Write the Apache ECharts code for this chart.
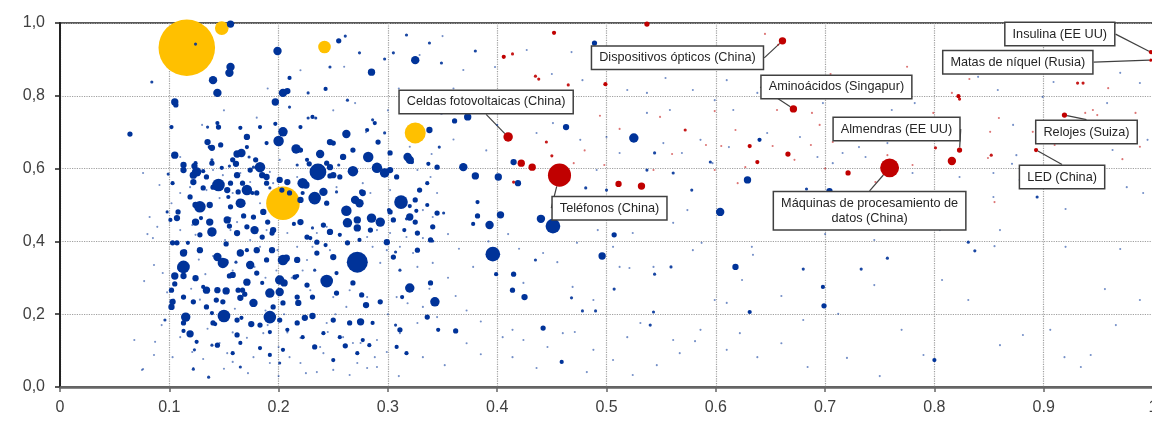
<!DOCTYPE html>
<html><head><meta charset="utf-8">
<script src="https://cdn.jsdelivr.net/npm/echarts@6/dist/echarts.min.js"></script>
<style>html,body{margin:0;padding:0;background:#fff}#c{width:1152px;height:421px}</style>
</head><body><div id="c"></div>
<script>
// ---- DATA: [x, y, tradeValue] ----
const xTickLabels = ['0','0.1','0.2','0.3','0.4','0.5','0.6','0.7','0.8','0.9','1'];
const yTickLabels = ['0,0','0,2','0,4','0,6','0,8','1,0'];

const yellowPoints = [
  [0.116,0.932,2900],[0.148,0.986,170],[0.242,0.934,144],[0.325,0.698,400],[0.204,0.505,1024]
];

const bluePoints = [
  [0.064,0.695,25],[0.124,0.942,9],[0.156,0.997,49],[0.199,0.923,64],[0.156,0.879,64],[0.155,0.863,64],
  [0.140,0.843,64],[0.144,0.808,64],[0.105,0.783,49],[0.106,0.775,25],[0.102,0.714,16],[0.084,0.838,9],
  [0.210,0.849,16],[0.204,0.808,64],[0.208,0.813,36],[0.197,0.783,49],[0.204,0.701,81],[0.200,0.676,100],
  [0.197,0.723,16],[0.216,0.654,81],[0.255,0.951,25],[0.261,0.964,9],[0.285,0.865,49],[0.243,0.819,16],
  [0.227,0.808,9],[0.227,0.739,9],[0.234,0.739,9],[0.247,0.673,36],[0.262,0.695,64],[0.288,0.725,16],
  [0.291,0.673,25],[0.171,0.687,36],[0.147,0.665,25],[0.162,0.640,49],[0.135,0.673,36],[0.139,0.657,36],
  [0.165,0.712,16],[0.145,0.714,25],[0.135,0.714,9],[0.173,0.632,9],[0.105,0.637,49],[0.113,0.610,36],
  [0.123,0.607,36],[0.125,0.591,81],[0.145,0.555,144],[0.171,0.541,100],[0.128,0.495,121],[0.161,0.613,36],
  [0.166,0.643,64],[0.179,0.624,25],[0.183,0.604,100],[0.176,0.533,16],[0.165,0.505,81],[0.137,0.453,49],
  [0.129,0.464,16],[0.139,0.426,81],[0.155,0.442,25],[0.152,0.393,25],[0.168,0.470,25],[0.190,0.453,25],
  [0.194,0.423,25],[0.171,0.376,16],[0.117,0.396,16],[0.113,0.330,16],[0.228,0.613,25],[0.238,0.640,64],
  [0.236,0.591,256],[0.225,0.555,49],[0.222,0.533,16],[0.233,0.514,64],[0.210,0.533,25],[0.268,0.593,100],
  [0.282,0.632,100],[0.290,0.602,100],[0.297,0.588,81],[0.247,0.580,25],[0.312,0.508,169],[0.262,0.484,100],
  [0.272,0.459,49],[0.263,0.451,81],[0.285,0.464,81],[0.293,0.453,81],[0.220,0.453,36],[0.231,0.437,9],
  [0.214,0.448,16],[0.302,0.481,25],[0.317,0.462,9],[0.326,0.484,16],[0.315,0.431,16],[0.272,0.343,400],
  [0.256,0.418,16],[0.243,0.390,16],[0.229,0.409,16],[0.244,0.291,144],[0.201,0.294,81],[0.205,0.286,49],
  [0.192,0.258,81],[0.185,0.286,16],[0.163,0.266,25],[0.169,0.255,25],[0.167,0.266,25],[0.152,0.264,49],
  [0.155,0.305,25],[0.143,0.239,25],[0.105,0.305,49],[0.113,0.305,36],[0.105,0.283,25],[0.131,0.275,16],
  [0.102,0.220,36],[0.115,0.192,81],[0.150,0.195,144],[0.192,0.192,144],[0.175,0.173,36],[0.166,0.190,16],
  [0.119,0.146,49],[0.113,0.154,16],[0.096,0.184,9],[0.139,0.115,9],[0.123,0.102,9],[0.122,0.049,9],
  [0.136,0.027,9],[0.075,0.047,4],[0.087,0.124,4],[0.218,0.231,36],[0.231,0.195,36],[0.224,0.190,36],
  [0.275,0.179,49],[0.280,0.225,36],[0.261,0.113,25],[0.233,0.110,25],[0.283,0.115,16],[0.320,0.272,81],
  [0.343,0.234,81],[0.307,0.170,9],[0.253,0.313,16],[0.217,0.305,16],[0.139,0.203,16],[0.142,0.173,16],
  [0.396,0.365,196],[0.451,0.442,196],[0.440,0.462,64],[0.403,0.473,49],[0.325,0.453,25],[0.301,0.486,16],
  [0.320,0.497,16],[0.382,0.470,25],[0.378,0.448,16],[0.393,0.445,64],[0.497,0.489,64],[0.496,0.360,49],
  [0.507,0.418,25],[0.341,0.401,9],[0.351,0.478,9],[0.435,0.349,9],[0.415,0.310,25],[0.414,0.266,25],
  [0.425,0.247,36],[0.442,0.162,25],[0.459,0.069,16],[0.362,0.154,25],[0.346,0.157,16],[0.311,0.321,9],
  [0.307,0.371,9],[0.399,0.310,16],[0.468,0.245,9],[0.478,0.209,9],[0.490,0.209,9],[0.507,0.269,9],
  [0.544,0.310,9],[0.559,0.330,9],[0.543,0.206,9],[0.540,0.170,9],[0.549,0.478,9],[0.604,0.481,64],
  [0.618,0.330,36],[0.631,0.206,16],[0.629,0.569,49],[0.640,0.679,16],[0.704,0.538,36],[0.683,0.544,9],
  [0.731,0.659,4],[0.693,0.632,4],[0.875,0.637,4],[0.871,0.613,4],[0.894,0.522,9],[0.823,0.577,4],
  [0.854,0.522,4],[0.920,0.489,4],[0.920,0.385,4],[0.831,0.398,9],[0.837,0.374,9],[0.855,0.387,4],
  [0.757,0.354,9],[0.733,0.324,9],[0.680,0.324,9],[0.698,0.275,16],[0.699,0.223,25],[0.712,0.201,4],
  [0.745,0.280,4],[0.680,0.184,4],[0.770,0.157,4],[0.684,0.055,4],[0.790,0.088,4],[0.800,0.074,16],
  [0.881,0.143,4],[0.956,0.269,4],[0.943,0.088,4],[0.919,0.082,4],
  [0.489,0.945,25],[0.338,0.945,9],[0.350,0.964,4],[0.380,0.923,9],[0.349,0.890,9],[0.325,0.898,64],
  [0.297,0.901,9],[0.305,0.918,9],[0.317,0.967,9],[0.349,0.753,9],[0.361,0.731,25],[0.373,0.742,49],
  [0.463,0.714,36],[0.525,0.684,81],[0.338,0.706,36],[0.347,0.659,9],[0.297,0.698,9],[0.320,0.624,64],
  [0.322,0.618,16],[0.337,0.613,16],[0.369,0.604,64],[0.380,0.580,49],[0.401,0.577,49],[0.415,0.618,36],
  [0.419,0.560,36],[0.382,0.508,16],[0.481,0.547,9],[0.500,0.541,9],[0.537,0.596,9],[0.578,0.541,9],
  [0.595,0.618,9],[0.561,0.588,9],[0.544,0.643,9],
  [0.131,0.593,16],[0.122,0.582,49],[0.255,0.610,9],[0.217,0.610,9],[0.253,0.536,9],[0.192,0.547,9],
  [0.155,0.607,9],[0.099,0.585,9],[0.139,0.624,9],[0.177,0.604,9],[0.166,0.505,64],[0.103,0.396,25],
  [0.114,0.371,25],[0.111,0.327,64],[0.151,0.343,49],[0.161,0.343,9],[0.207,0.354,49],[0.233,0.321,9]
];

const blueMore = [
  [0.139,0.615,25],[0.148,0.602,16],[0.162,0.582,36],[0.156,0.560,25],[0.180,0.533,25],[0.185,0.582,36],
  [0.189,0.560,25],[0.177,0.467,25],[0.186,0.481,36],[0.171,0.440,25],[0.162,0.423,36],[0.178,0.431,64],
  [0.185,0.412,25],[0.195,0.431,36],[0.153,0.459,49],[0.128,0.418,25],[0.107,0.464,36],[0.108,0.481,25],
  [0.101,0.459,16],[0.098,0.481,9],[0.124,0.453,49],[0.119,0.522,25],[0.124,0.500,36],[0.137,0.500,36],
  [0.156,0.495,25],[0.154,0.522,16],[0.163,0.536,25],[0.131,0.547,25],[0.122,0.563,36],[0.113,0.596,36],
  [0.134,0.577,25],[0.103,0.560,16],[0.174,0.596,25],[0.167,0.560,25],[0.201,0.569,36],[0.203,0.541,25],
  [0.194,0.376,36],[0.180,0.376,36],[0.165,0.368,49],[0.144,0.357,64],[0.128,0.376,36],[0.113,0.368,49],
  [0.107,0.396,25],[0.204,0.349,100],[0.189,0.349,25],[0.174,0.335,64],[0.149,0.341,100],[0.113,0.330,144],
  [0.222,0.560,100],[0.241,0.536,64],[0.233,0.519,144],[0.244,0.505,25],[0.270,0.514,64],[0.274,0.505,64],
  [0.276,0.536,25],[0.256,0.577,25],[0.250,0.582,36],[0.259,0.632,36],[0.244,0.615,25],[0.302,0.596,36],
  [0.308,0.577,25],[0.318,0.632,64],[0.345,0.604,25],[0.336,0.560,16],[0.329,0.541,25],[0.325,0.514,25],
  [0.336,0.500,16],[0.345,0.478,25],[0.320,0.467,49],[0.341,0.440,25],[0.305,0.459,25],[0.284,0.431,25],
  [0.272,0.437,49],[0.247,0.426,36],[0.241,0.445,25],[0.226,0.412,25],[0.235,0.398,25],[0.263,0.396,25],
  [0.274,0.404,16],[0.299,0.398,36],[0.327,0.423,25],[0.339,0.404,25],[0.327,0.376,25],[0.305,0.357,25],
  [0.250,0.357,36],[0.235,0.368,25],[0.217,0.349,36],
  [0.124,0.299,36],[0.144,0.266,36],[0.158,0.308,36],[0.171,0.288,49],[0.180,0.313,25],[0.165,0.245,36],
  [0.177,0.231,64],[0.195,0.220,25],[0.204,0.231,25],[0.201,0.261,64],[0.149,0.234,25],[0.134,0.220,25],
  [0.122,0.234,25],[0.113,0.247,25],[0.103,0.234,36],[0.102,0.266,25],[0.134,0.266,49],[0.113,0.176,25],
  [0.140,0.176,25],[0.162,0.184,25],[0.183,0.170,25],[0.201,0.184,25],[0.208,0.157,16],[0.192,0.151,16],
  [0.162,0.143,25],[0.125,0.124,16],[0.144,0.115,25],[0.165,0.121,16],[0.183,0.107,16],[0.204,0.102,16],
  [0.192,0.088,16],[0.158,0.093,16],[0.165,0.055,9],[0.201,0.066,9],
  [0.215,0.302,25],[0.226,0.280,25],[0.217,0.247,25],[0.231,0.247,25],[0.253,0.258,25],[0.268,0.286,25],
  [0.276,0.253,25],[0.293,0.234,25],[0.313,0.247,16],[0.339,0.286,25],[0.336,0.192,25],[0.311,0.157,25],
  [0.286,0.176,16],[0.265,0.176,25],[0.250,0.184,25],[0.217,0.176,25],[0.222,0.137,16],[0.241,0.148,16],
  [0.256,0.137,16],[0.277,0.129,16],[0.308,0.110,16],[0.250,0.074,16],[0.272,0.093,16],[0.317,0.093,16],
  [0.124,0.615,16],[0.140,0.549,25],[0.153,0.541,36],[0.158,0.624,25],[0.189,0.577,36],[0.208,0.563,36],
  [0.220,0.514,36],[0.247,0.604,36],[0.277,0.533,36],[0.250,0.670,25],[0.281,0.706,16],[0.268,0.651,25],
  [0.302,0.643,25],[0.220,0.651,25],[0.226,0.624,16],[0.183,0.714,16],[0.144,0.725,16],[0.137,0.659,16],
  [0.171,0.659,16],[0.189,0.670,16],[0.220,0.714,16],[0.231,0.742,16],[0.210,0.769,9],[0.263,0.788,9],
  [0.286,0.734,9],[0.247,0.879,9],[0.274,0.918,9]
];

const blueTiny = [
  [0.080,0.420],[0.086,0.335],[0.077,0.291],[0.093,0.170],[0.068,0.129],[0.076,0.049],[0.086,0.088],
  [0.094,0.313],[0.098,0.481],[0.121,0.096],[0.122,0.052],[0.153,0.093],[0.158,0.069],[0.171,0.135],
  [0.177,0.082],[0.186,0.148],[0.200,0.110],[0.210,0.082],[0.220,0.066],[0.225,0.038],[0.235,0.041],
  [0.238,0.110],[0.250,0.074],[0.259,0.137],[0.275,0.121],[0.288,0.082],[0.281,0.052],[0.299,0.096],
  [0.265,0.033],[0.245,0.151],[0.220,0.135],[0.192,0.066],[0.172,0.038],[0.146,0.121],[0.131,0.077],
  [0.103,0.082],[0.110,0.137],
  [0.414,0.157],[0.424,0.129],[0.446,0.110],[0.460,0.148],[0.471,0.151],[0.488,0.102],[0.506,0.074],
  [0.519,0.137],[0.531,0.176],[0.561,0.129],[0.567,0.093],[0.586,0.157],[0.581,0.126],[0.610,0.102],
  [0.622,0.148],[0.638,0.082],[0.546,0.060],[0.524,0.033],[0.482,0.041],[0.436,0.052],[0.414,0.082],
  [0.405,0.137],[0.506,0.385],[0.521,0.327],[0.543,0.330],[0.579,0.376],[0.587,0.396],[0.633,0.385],
  [0.634,0.363],[0.624,0.294],[0.599,0.239],[0.610,0.231],[0.469,0.275],[0.488,0.239],[0.512,0.330],
  [0.524,0.423],[0.574,0.486],[0.561,0.451],[0.492,0.431],[0.473,0.396],[0.455,0.343],[0.442,0.368],
  [0.424,0.286],
  [0.329,0.912],[0.369,0.871],[0.398,0.879],[0.427,0.926],[0.468,0.920],[0.478,0.843],[0.519,0.816],
  [0.537,0.808],[0.554,0.849],[0.579,0.816],[0.599,0.788],[0.610,0.843],[0.616,0.761],[0.638,0.808],
  [0.537,0.753],[0.558,0.761],[0.436,0.761],[0.451,0.725],[0.436,0.698],[0.476,0.679],[0.500,0.687],
  [0.512,0.643],[0.552,0.670],[0.569,0.643],[0.586,0.679],[0.597,0.615],[0.612,0.659],[0.647,0.698],
  [0.491,0.596],
  [0.677,0.687],[0.698,0.780],[0.730,0.797],[0.761,0.761],[0.782,0.780],[0.787,0.706],[0.757,0.670],
  [0.737,0.632],[0.716,0.643],[0.707,0.615],[0.840,0.852],[0.858,0.816],[0.872,0.720],[0.899,0.797],
  [0.909,0.838],[0.958,0.780],[0.970,0.863],[0.988,0.835],[0.995,0.679],[0.963,0.651],[0.878,0.569],
  [0.854,0.588],[0.780,0.588],[0.805,0.533],[0.976,0.549],[0.991,0.533],
  [0.745,0.404],[0.779,0.445],[0.807,0.294],[0.831,0.239],[0.860,0.115],[0.906,0.157],[0.934,0.055],
  [0.970,0.379],[0.988,0.239],[0.860,0.431],[0.805,0.431],[0.966,0.170],[0.700,0.420],[0.660,0.250],
  [0.660,0.120],[0.720,0.080],[0.750,0.030],
  [0.076,0.588],[0.091,0.555],[0.102,0.505],[0.082,0.467],[0.089,0.440],[0.085,0.409],[0.110,0.533],
  [0.119,0.549],[0.121,0.445],[0.124,0.418],[0.110,0.431],[0.156,0.431],[0.151,0.404],[0.174,0.404],
  [0.180,0.423],[0.189,0.431],[0.165,0.376],[0.183,0.385],[0.199,0.376],[0.208,0.423],[0.134,0.541],
  [0.146,0.519],[0.158,0.533],[0.183,0.505],[0.156,0.464],[0.162,0.453],[0.140,0.596],[0.149,0.582],
  [0.165,0.588],[0.174,0.563],[0.192,0.591],[0.195,0.560],[0.201,0.624],[0.110,0.632],
  [0.217,0.577],[0.253,0.549],[0.277,0.560],[0.284,0.533],[0.302,0.541],[0.327,0.596],[0.339,0.577],
  [0.345,0.533],[0.332,0.486],[0.341,0.467],[0.332,0.409],[0.317,0.412],[0.302,0.423],[0.290,0.431],
  [0.281,0.412],[0.244,0.440],[0.235,0.423],[0.217,0.385],[0.231,0.385],[0.247,0.376],[0.286,0.385],
  [0.299,0.376],[0.311,0.385],[0.323,0.368],[0.341,0.341],[0.327,0.330],[0.293,0.341],[0.226,0.349],
  [0.229,0.266],[0.250,0.247],[0.265,0.266],[0.281,0.247],[0.308,0.247],[0.332,0.220],[0.345,0.192],
  [0.327,0.176],[0.311,0.148],[0.290,0.129],[0.268,0.121],[0.244,0.176],[0.241,0.093],[0.272,0.066],
  [0.290,0.055],[0.332,0.082],[0.250,0.047],
  [0.098,0.260],[0.104,0.240],[0.127,0.350],[0.133,0.310],[0.140,0.360],[0.158,0.320],[0.178,0.330],
  [0.188,0.300],[0.198,0.320],[0.212,0.300],[0.222,0.320],[0.178,0.230],[0.188,0.210],[0.205,0.200],
  [0.160,0.215],[0.128,0.240],[0.120,0.270],[0.135,0.160],[0.158,0.150],[0.190,0.170],[0.208,0.150],
  [0.252,0.200],[0.262,0.220],[0.300,0.200],[0.318,0.230],[0.338,0.270],[0.355,0.300],[0.362,0.250],
  [0.372,0.210],[0.385,0.180],[0.378,0.330],[0.365,0.380],[0.355,0.420],[0.392,0.400],[0.410,0.420],
  [0.420,0.380],[0.372,0.120],[0.385,0.090],[0.352,0.060],[0.310,0.030],[0.200,0.030],[0.150,0.050],
  [0.130,0.720],[0.150,0.760],[0.180,0.740],[0.190,0.820],[0.220,0.870],[0.260,0.880],[0.270,0.780],
  [0.300,0.760],[0.310,0.820],[0.280,0.700],[0.250,0.760],[0.320,0.660],[0.340,0.640],[0.360,0.680],
  [0.390,0.650],[0.400,0.720],[0.420,0.800],[0.450,0.860],[0.380,0.780],[0.360,0.820]
];

const redPoints = [
  [0.537,0.997,25],[0.452,0.973,16],[0.406,0.907,16],[0.414,0.915,9],[0.435,0.854,9],[0.438,0.846,9],
  [0.465,0.830,9],[0.499,0.832,16],[0.494,0.745,4],[0.512,0.709,4],[0.572,0.706,9],[0.591,0.665,4],
  [0.605,0.662,4],[0.631,0.662,16],[0.445,0.673,9],[0.422,0.615,49],[0.432,0.604,49],[0.450,0.635,9],
  [0.498,0.610,4],[0.511,0.558,36],[0.532,0.552,49],[0.599,0.596,4],[0.638,0.618,16],[0.627,0.604,4],
  [0.543,0.596,4],[0.415,0.563,9],[0.466,0.569,4],[0.645,0.970,4],[0.657,0.940,4],[0.721,0.588,25],
  [0.666,0.640,25],[0.652,0.662,4],[0.656,0.761,4],[0.688,0.753,4],[0.707,0.673,4],[0.801,0.657,9],
  [0.816,0.621,64],[0.822,0.799,16],[0.823,0.791,9],[0.859,0.739,4],[0.852,0.637,9],[0.849,0.629,4],
  [0.855,0.508,4],[0.746,0.563,4],[0.687,0.665,4],[0.672,0.624,4],[0.931,0.835,9],[0.936,0.835,9],
  [0.959,0.821,4],[0.945,0.761,4],[0.949,0.747,4],[0.938,0.753,4],[0.984,0.753,4],[0.972,0.626,4],
  [0.549,0.742,4],[0.599,0.758,4],[0.618,0.706,4],[0.799,0.753,4],[0.851,0.701,4],[0.832,0.846,4],
  [0.816,0.808,4],[0.737,0.687,4],[0.695,0.720,4],[0.757,0.637,4],[0.780,0.610,4],[0.890,0.701,4],
  [0.910,0.665,4],[0.964,0.700,4],[0.988,0.660,4],[0.470,0.615,4],[0.480,0.650,4],[0.560,0.640,4],
  [0.620,0.560,4],[0.700,0.600,4],[0.585,0.880,4],[0.625,0.900,4],[0.705,0.860,4],[0.775,0.880,4]
];

const labeledNames = [
  'Dispositivos ópticos (China)','Celdas fotovoltaicas (China)','Aminoácidos (Singapur)',
  'Almendras (EE UU)','Teléfonos (China)','Máquinas de procesamiento de\ndatos (China)',
  'Relojes (Suiza)','LED (China)','Insulina (EE UU)','Matas de níquel (Rusia)'
];
const labeledPoints = [
  [0.661,0.951,49],[0.410,0.687,81],[0.671,0.764,49],[0.823,0.651,25],[0.457,0.582,484],
  [0.759,0.602,324],[0.919,0.747,25],[0.893,0.651,16],[0.998,0.920,16],[0.998,0.898,9]
];
const TINY_VALUE = 4;

// ---- LAYOUT (label box offsets from their point, px) ----
const labelOffsets = [[-105,17],[-22,-35],[43,-22],[-63,-21],[50,33],[-20,43],[22,17],[26,27],[-91,-18],[-133,2]];

const blueAll = blueTiny.map(p => [p[0], p[1], TINY_VALUE]).concat(bluePoints, blueMore)
  .sort((a,b) => a[2]-b[2]);
const styled = arr => arr.map(p => ({value:p, itemStyle:{opacity: p[2] <= 4 ? 0.55 : (p[2] <= 9 ? 0.9 : 1)}}));

const chart = echarts.init(document.getElementById('c'));
const font = "'Liberation Sans', Arial, sans-serif";
const sizeFn = v => Math.sqrt(v[2]) * 1.05;

chart.setOption({
  animation: false,
  grid: {left: 60, top: 23, width: 1093, height: 364, outerBoundsMode: 'none', containLabel: false,
    show: true, borderColor: '#595959', borderWidth: 2},
  xAxis: {
    type: 'value', min: 0, max: 1, interval: 0.1,
    axisLine: {show: true, lineStyle: {color: '#666', width: 2.5}},
    axisTick: {show: true, length: 5, lineStyle: {color: '#666', width: 1.5}},
    axisLabel: {fontFamily: font, fontSize: 16, color: '#404040', margin: 13,
      formatter: v => xTickLabels[Math.round(v*10)]},
    splitLine: {show: true, lineStyle: {color: '#a0a0a0', type: 'dotted', width: 1.2}}
  },
  yAxis: {
    type: 'value', min: 0, max: 1, interval: 0.2,
    axisLine: {show: true, lineStyle: {color: '#222', width: 2}},
    axisTick: {show: true, length: 5, lineStyle: {color: '#222', width: 1.5}},
    axisLabel: {fontFamily: font, fontSize: 16, color: '#404040', margin: 15,
      formatter: v => yTickLabels[Math.round(v*5)]},
    splitLine: {show: true, lineStyle: {color: '#a0a0a0', type: 'dotted', width: 1.2}}
  },
  series: [
    {type: 'scatter', data: yellowPoints, symbolSize: sizeFn, itemStyle: {color: '#FFC000', opacity: 1}, silent: true},
    {type: 'scatter', data: styled(blueAll), symbolSize: sizeFn, itemStyle: {color: '#003399'}, silent: true},
    {type: 'scatter', data: styled(redPoints), symbolSize: sizeFn, itemStyle: {color: '#C00000'}, silent: true},
    {type: 'scatter', data: labeledPoints, symbolSize: sizeFn, itemStyle: {color: '#C00000', opacity: 1}, silent: true,
      label: {show: true, position: 'inside', formatter: p => labeledNames[p.dataIndex],
        fontFamily: font, fontSize: 12.7, color: '#262626', lineHeight: 15, align: 'center', opacity: 1,
        backgroundColor: '#ffffff', borderColor: '#404040', borderWidth: 1.5, padding: [4, 7, 3, 7],
        textBorderWidth: 0},
      labelLine: {show: true, lineStyle: {color: '#404040', width: 1.2, opacity: 1}},
      labelLayout: params => {
        const o = labelOffsets[params.dataIndex];
        return {x: params.rect.x + params.rect.width/2 + o[0], y: params.rect.y + params.rect.height/2 + o[1],
          align: 'center', verticalAlign: 'middle'};
      }
    }
  ]
});
</script></body></html>
